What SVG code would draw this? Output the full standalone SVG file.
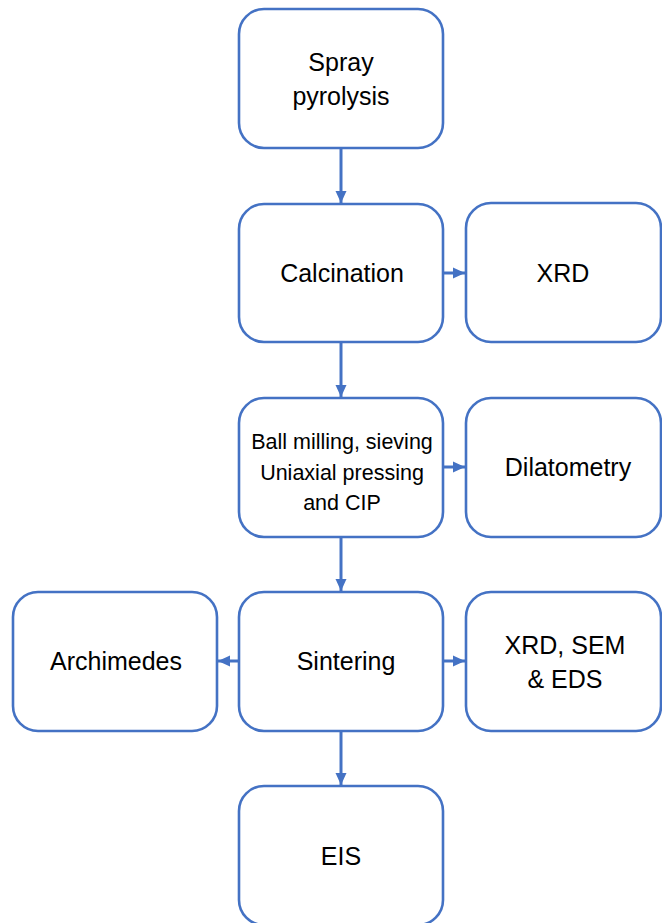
<svg xmlns="http://www.w3.org/2000/svg" width="662" height="923" viewBox="0 0 662 923">
<style>
.box{fill:#fff;stroke:#4472C4;stroke-width:2.6}
.t{font-family:"Liberation Sans",Arial,sans-serif;font-size:25px;fill:#000;text-anchor:middle}
.s{font-size:21.5px}
.c{stroke:#4472C4;stroke-width:3;fill:none}
</style>
<defs>
<marker id="ah" markerUnits="userSpaceOnUse" markerWidth="12" markerHeight="12" viewBox="0 0 12 12" refX="12" refY="6" orient="auto">
<path d="M0,0.5 L12,6 L0,11.5 Z" fill="#4472C4"/>
</marker>
</defs>
<rect width="662" height="923" fill="#fff"/>
<g id="connectors">
<line class="c" x1="341" y1="148" x2="341" y2="203" marker-end="url(#ah)"/>
<line class="c" x1="341" y1="342" x2="341" y2="397" marker-end="url(#ah)"/>
<line class="c" x1="341" y1="537" x2="341" y2="591" marker-end="url(#ah)"/>
<line class="c" x1="341" y1="731" x2="341" y2="785" marker-end="url(#ah)"/>
<line class="c" x1="443" y1="273" x2="465" y2="273" marker-end="url(#ah)"/>
<line class="c" x1="443" y1="467" x2="465" y2="467" marker-end="url(#ah)"/>
<line class="c" x1="443" y1="661" x2="465" y2="661" marker-end="url(#ah)"/>
<line class="c" x1="239" y1="661" x2="218" y2="661" marker-end="url(#ah)"/>
</g>
<g id="spray">
<rect class="box" x="239" y="9" width="204" height="139" rx="25"/>
<text class="t" x="341" y="71">Spray</text>
<text class="t" x="341" y="105">pyrolysis</text>
</g>
<g id="calcination">
<rect class="box" x="239" y="204" width="204" height="138" rx="25"/>
<text class="t" x="342" y="282">Calcination</text>
</g>
<g id="xrd1">
<rect class="box" x="466" y="203" width="195" height="139" rx="25"/>
<text class="t" x="563" y="282">XRD</text>
</g>
<g id="milling">
<rect class="box" x="239" y="398" width="204" height="139" rx="25"/>
<text class="t s" x="342" y="449">Ball milling, sieving</text>
<text class="t s" x="342" y="480">Uniaxial pressing</text>
<text class="t s" x="342" y="510">and CIP</text>
</g>
<g id="dilatometry">
<rect class="box" x="466" y="398" width="195" height="139" rx="25"/>
<text class="t" x="568" y="476">Dilatometry</text>
</g>
<g id="archimedes">
<rect class="box" x="13" y="592" width="204" height="139" rx="25"/>
<text class="t" x="116" y="670">Archimedes</text>
</g>
<g id="sintering">
<rect class="box" x="239" y="592" width="204" height="139" rx="25"/>
<text class="t" x="346" y="670">Sintering</text>
</g>
<g id="xrdsem">
<rect class="box" x="466" y="592" width="195" height="139" rx="25"/>
<text class="t" x="565" y="654">XRD, SEM</text>
<text class="t" x="565" y="688">&amp; EDS</text>
</g>
<g id="eis">
<rect class="box" x="239" y="786" width="204" height="139" rx="25"/>
<text class="t" x="341" y="865">EIS</text>
</g>
</svg>
